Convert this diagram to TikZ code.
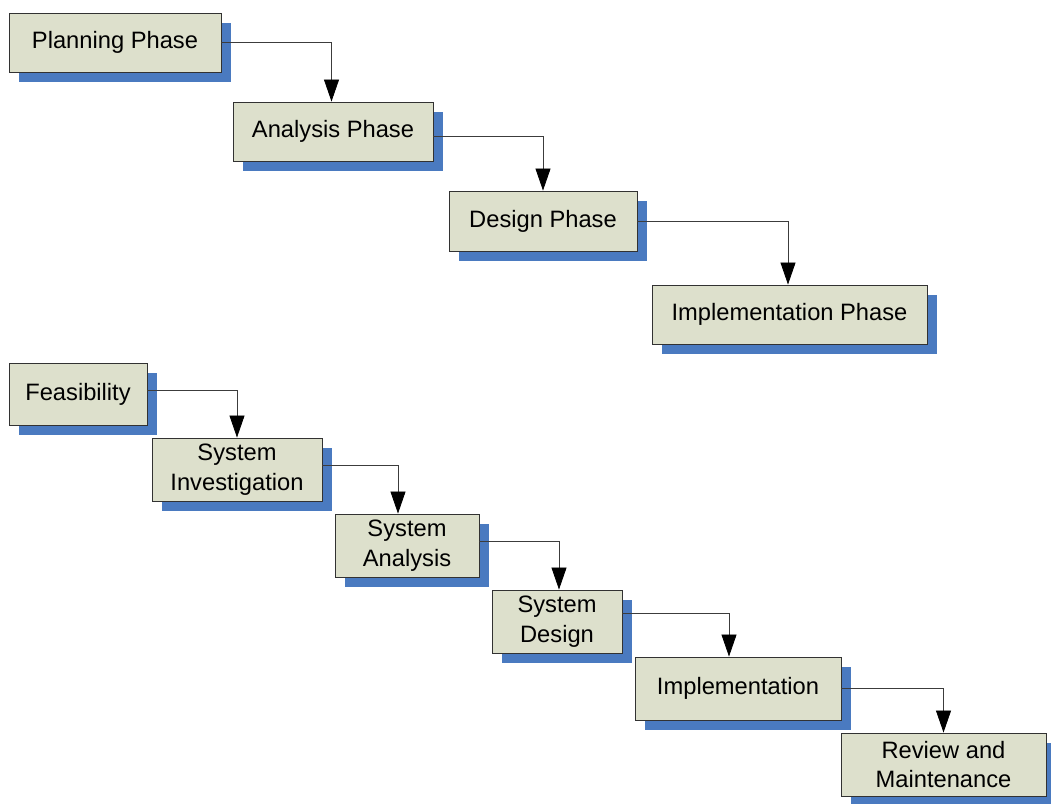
\documentclass[tikz,border=0pt]{standalone}
\usepackage{fontspec}
\setmainfont{Liberation Sans}
\usetikzlibrary{arrows.meta,shadows}

\definecolor{boxfill}{RGB}{221,224,204}
\definecolor{boxline}{RGB}{50,50,50}
\definecolor{shadowblue}{RGB}{74,122,192}
\definecolor{wireline}{RGB}{60,60,60}

\tikzset{
  phase/.style={draw=boxline, line width=0.9pt, fill=boxfill, inner sep=0pt,
    align=center, font=\fontsize{23.7}{29.5}\selectfont,
    drop shadow={shadow xshift=10pt, shadow yshift=-10pt, opacity=1, fill=shadowblue}},
  flow/.style={draw=wireline, line width=0.8pt,
    -{Triangle[width=15pt,length=22pt,fill=black,color=black]}}
}

% box from its corner pixels: name, x1, y1, x2, y2, label
\newcommand\phasebox[6]{%
  \pgfmathsetmacro\bw{#4-#2}\pgfmathsetmacro\bh{#5-#3}%
  \node[phase, minimum width=\bw pt, minimum height=\bh pt]
    (#1) at ({(#2+#4)/2},{(#3+#5)/2}) {#6};}

\begin{document}
\begin{tikzpicture}[x=1pt,y=-1pt]
\useasboundingbox (0,0) rectangle (1051,803);

% four-phase model
\phasebox{plan}{9}{13}{221}{72}{Planning Phase}
\phasebox{anal}{233}{102}{433}{161}{Analysis Phase}
\phasebox{desg}{449}{191}{637}{251}{Design Phase}
\phasebox{impl}{652}{285}{927}{344}{Implementation Phase}

% six-stage model
\phasebox{feas}{9}{363}{147}{425}{Feasibility}
\phasebox{sinv}{152}{438}{322}{501}{System\\Investigation}
\phasebox{sana}{335}{514}{479}{577}{System\\Analysis}
\phasebox{sdes}{492}{590}{622}{653}{System\\Design}
\phasebox{simp}{635}{657}{841}{720}{Implementation}
\phasebox{revw}{841}{733}{1046}{796}{Review and\\Maintenance}

% connectors
\draw[flow] (plan.east) -| ([xshift=-1.5pt]anal.north);
\draw[flow] ([yshift=-4.5pt]anal.east) -| (desg.north);
\draw[flow] (desg.east) -| ([xshift=-1.5pt]impl.north);

\draw[flow] ([yshift=4pt]feas.east) -| (sinv.north);
\draw[flow] ([yshift=4.5pt]sinv.east) -| ([xshift=-9pt]sana.north);
\draw[flow] ([yshift=4.5pt]sana.east) -| ([xshift=2pt]sdes.north);
\draw[flow] ([yshift=8.5pt]sdes.east) -| ([xshift=-9pt]simp.north);
\draw[flow] (simp.east) -| (revw.north);
\end{tikzpicture}
\end{document}
